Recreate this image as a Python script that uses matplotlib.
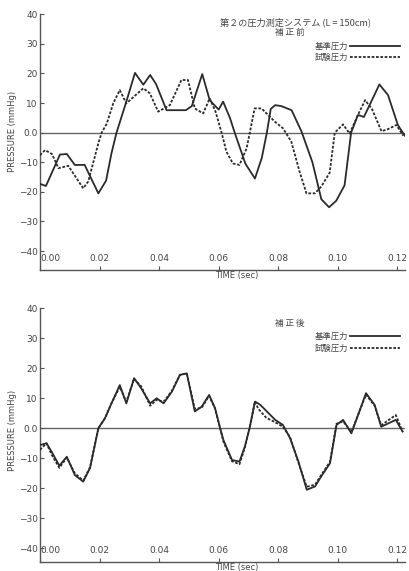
import matplotlib.pyplot as plt
import matplotlib as mpl

plt.rcParams['font.family'] = ['DejaVu Sans', 'Noto Sans CJK JP']
jp = ['Noto Sans CJK JP', 'DejaVu Sans']

# === 補正前 (before correction) ===
t_ref_a = [0.0000, 0.0020, 0.0067, 0.0090, 0.0117, 0.0150, 0.0196, 0.0222, 0.0240, 0.0257,
           0.0290, 0.0319, 0.0347, 0.0370, 0.0390, 0.0425, 0.0490, 0.0510, 0.0545, 0.0570,
           0.0600, 0.0615, 0.0638, 0.0654, 0.0690, 0.0722, 0.0745, 0.0762, 0.0775, 0.0790,
           0.0810, 0.0845, 0.0878, 0.0915, 0.0945, 0.0971, 0.0995, 0.1023, 0.1045, 0.1068,
           0.1088, 0.1140, 0.1169, 0.1202, 0.1225]
p_ref_a = [-17.3, -18.0, -7.4, -7.2, -10.9, -10.9, -20.5, -16.2, -7.0, 0.0,
           10.5, 20.2, 16.2, 19.5, 16.4, 7.6, 7.6, 9.0, 19.8, 11.0,
           7.8, 10.5, 5.0, 0.0, -10.5, -15.5, -8.5, 0.0, 8.0, 9.3,
           9.0, 7.6, 0.5, -10.0, -22.5, -25.2, -23.0, -17.8, 0.0, 6.0,
           5.3, 16.3, 12.7, 2.6, -1.0]

t_test_a = [0.0000, 0.0017, 0.0040, 0.0062, 0.0095, 0.0145, 0.0162, 0.0196, 0.0207, 0.0224,
            0.0246, 0.0268, 0.0290, 0.0347, 0.0369, 0.0397, 0.0436, 0.0475, 0.0497, 0.0520,
            0.0548, 0.0570, 0.0590, 0.0610, 0.0626, 0.0648, 0.0670, 0.0694, 0.0721, 0.0744,
            0.0766, 0.0789, 0.0816, 0.0844, 0.0872, 0.0895, 0.0923, 0.0945, 0.0973, 0.0990,
            0.1018, 0.1040, 0.1068, 0.1092, 0.1115, 0.1147, 0.1169, 0.1197, 0.1220]
p_test_a = [-7.6, -5.9, -7.2, -12.0, -11.2, -18.8, -16.5, -3.6, 0.0, 3.0,
            9.9, 14.4, 9.9, 15.0, 13.3, 7.1, 9.3, 17.8, 17.8, 8.2,
            6.5, 11.6, 7.0, 0.0, -6.4, -10.4, -10.9, -5.3, 8.2, 8.2,
            6.0, 3.7, 1.5, -3.0, -13.2, -20.5, -20.5, -18.2, -13.5, 0.0,
            2.8, -0.3, 6.0, 11.0, 8.0, 0.5, 1.2, 2.6, -1.0]

# === 補正後 (after correction) ===
t_ref_b = [0.0000, 0.0022, 0.0040, 0.0065, 0.0090, 0.0117, 0.0145, 0.0168, 0.0196, 0.0218,
           0.0240, 0.0268, 0.0290, 0.0316, 0.0340, 0.0370, 0.0392, 0.0415, 0.0443, 0.0470,
           0.0493, 0.0520, 0.0543, 0.0568, 0.0588, 0.0605, 0.0616, 0.0645, 0.0670, 0.0688,
           0.0705, 0.0722, 0.0740, 0.0768, 0.0790, 0.0816, 0.0840, 0.0868, 0.0896, 0.0924,
           0.0945, 0.0974, 0.0996, 0.1018, 0.1046, 0.1095, 0.1124, 0.1146, 0.1195, 0.1218]
p_ref_b = [-5.6, -5.0, -8.0, -12.5, -9.5, -15.6, -17.8, -13.3, 0.0, 3.3,
           8.3, 14.4, 8.3, 16.7, 13.3, 8.3, 10.0, 8.3, 12.2, 17.8,
           18.3, 5.6, 7.2, 11.1, 6.7, 0.0, -3.9, -10.6, -11.1, -6.1,
           0.5, 8.9, 7.8, 5.0, 2.8, 1.1, -3.3, -11.1, -20.5, -19.4,
           -16.0, -11.7, 1.1, 2.8, -1.7, 11.7, 7.8, 0.5, 2.8, -1.1]

t_test_b = [0.0000, 0.0022, 0.0040, 0.0065, 0.0090, 0.0117, 0.0145, 0.0168, 0.0196, 0.0218,
            0.0240, 0.0268, 0.0290, 0.0316, 0.0340, 0.0370, 0.0392, 0.0415, 0.0443, 0.0470,
            0.0493, 0.0520, 0.0543, 0.0568, 0.0588, 0.0605, 0.0616, 0.0645, 0.0670, 0.0688,
            0.0705, 0.0722, 0.0733, 0.0760, 0.0790, 0.0816, 0.0840, 0.0868, 0.0896, 0.0924,
            0.0945, 0.0974, 0.0996, 0.1018, 0.1046, 0.1095, 0.1124, 0.1146, 0.1195, 0.1218]
p_test_b = [-7.2, -5.0, -9.0, -13.2, -9.8, -15.0, -17.5, -13.0, 0.0, 3.3,
            8.3, 13.8, 8.8, 16.5, 14.0, 7.5, 9.5, 8.8, 12.5, 17.8,
            18.3, 6.5, 6.8, 10.8, 6.5, 0.0, -4.5, -11.0, -12.0, -6.5,
            0.5, 8.9, 6.5, 3.5, 2.0, 0.5, -3.0, -11.5, -19.5, -18.8,
            -15.5, -11.2, 1.5, 2.3, -1.2, 11.2, 7.5, 1.0, 4.4, -1.1]

yticks = [-40, -30, -20, -10, 0, 10, 20, 30, 40]
ytick_labels = ['−40', '−30', '−20', '−10', '0.0', '10', '20', '30', '40']
xticks = [0.00, 0.02, 0.04, 0.06, 0.08, 0.10, 0.12]
xtick_labels = ['0.00', '0.02', '0.04', '0.06', '0.08', '0.10', '0.12']

W, H = 409, 571
fig = plt.figure(figsize=(W / 100, H / 100), dpi=100)

ink = '#2b2b2b'
txt = '#444444'


def setup(ax, ymin, label_y):
    ax.set_xlim(0, 0.1226)
    ax.set_ylim(ymin, 40)
    for s in ['top', 'right']:
        ax.spines[s].set_visible(False)
    for s in ['left', 'bottom']:
        ax.spines[s].set_color('#555555')
        ax.spines[s].set_linewidth(1.0)
    ax.axhline(0, color='#666666', lw=1.0, zorder=1)
    ax.set_yticks(yticks)
    ax.set_yticklabels(ytick_labels)
    ax.set_xticks(xticks)
    ax.set_xticklabels(xtick_labels)
    ax.tick_params(axis='y', direction='in', length=3, pad=1.5, labelsize=6.5,
                   labelcolor=txt, color='#555555')
    ax.tick_params(axis='x', direction='in', length=3, pad=-11.5, labelsize=6.5,
                   labelcolor=txt, color='#555555')
    # first time label sits just right of the axis, as in the original
    ax.get_xticklabels()[0].set_horizontalalignment('left')
    ax.set_ylabel('PRESSURE (mmHg)', fontsize=6, color=txt)
    ax.yaxis.set_label_coords(-0.062, label_y)
    ax.set_xlabel('TIME (sec)', fontsize=6, color=txt)
    ax.xaxis.set_label_coords(0.54, -0.005)


def panel(ax, t_ref, p_ref, t_test, p_test, title, header=None):
    ax.plot(t_test, p_test, color=ink, lw=1.3, dashes=(1.5, 0.9), label='試験圧力', zorder=3)
    ax.plot(t_ref, p_ref, color=ink, lw=1.3, label='基準圧力', zorder=4)
    h, l = ax.get_legend_handles_labels()
    leg = ax.legend(h[::-1], l[::-1], loc='upper right', bbox_to_anchor=(0.985, title[2]),
                    frameon=False, markerfirst=False, handlelength=6.0, handletextpad=0.1,
                    labelspacing=0.25, borderpad=0, borderaxespad=0,
                    prop={'family': jp, 'size': 6})
    for t in leg.get_texts():
        t.set_color(txt)
    ax.text(title[1], title[2] + 0.035, title[0], transform=ax.transAxes, ha='center',
            va='center', fontsize=6.2, family=jp, color=txt)
    if header:
        ax.text(0.70, 0.97, header, transform=ax.transAxes, ha='center', va='center',
                fontsize=6.6, family=jp, color=txt)


ax1 = fig.add_axes([40 / W, 1 - 270 / H, 365 / W, 255.7 / H])
setup(ax1, -46.4, 0.54)
panel(ax1, t_ref_a, p_ref_a, t_test_a, p_test_a, ('補 正 前', 0.685, 0.892),
      header='第２の圧力測定システム (L = 150cm)')

ax2 = fig.add_axes([40 / W, 1 - 562 / H, 365 / W, 253.7 / H])
setup(ax2, -44.6, 0.52)
panel(ax2, t_ref_b, p_ref_b, t_test_b, p_test_b, ('補 正 後', 0.685, 0.905))

fig.savefig('out.png', dpi=100, facecolor='white')
